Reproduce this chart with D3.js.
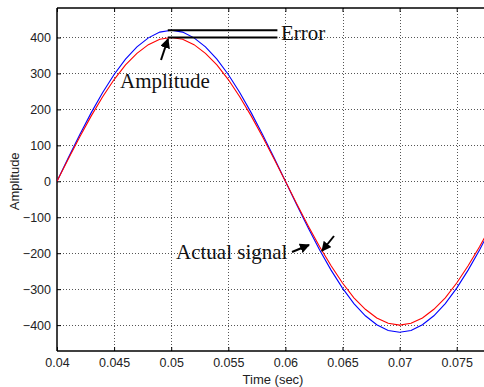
<!DOCTYPE html>
<html>
<head>
<meta charset="utf-8">
<script src="https://cdn.jsdelivr.net/npm/d3@7"></script>
<style>
  body { margin: 0; background: #fff; }
  svg { display: block; }
  .tick text { font-family: "Liberation Sans", Arial, sans-serif; font-size: 12.5px; fill: #222; }
  .note { font-family: "Liberation Serif", "Times New Roman", serif; font-size: 21px; fill: #111; }
</style>
</head>
<body>
<div id="chart"></div>
<script>
// time samples (sec)
let timeVals = [0.040, 0.041, 0.042, 0.043, 0.044, 0.045, 0.046, 0.047, 0.048, 0.049,
    0.050, 0.051, 0.052, 0.053, 0.054, 0.055, 0.056, 0.057, 0.058, 0.059,
    0.060, 0.061, 0.062, 0.063, 0.064, 0.065, 0.066, 0.067, 0.068, 0.069,
    0.070, 0.071, 0.072, 0.073, 0.074, 0.075, 0.076, 0.077, 0.078];

// blue trace (larger amplitude)
let blueVals = [0, 66, 130, 191, 247, 297, 340, 374, 399, 415,
    420, 415, 399, 374, 340, 297, 247, 191, 130, 66,
    0, -66, -130, -191, -247, -297, -340, -374, -399, -415,
    -420, -415, -399, -374, -340, -297, -247, -191, -130];

// red trace (actual signal)
let redVals = [0, 63, 124, 182, 235, 283, 324, 356, 380, 395,
    400, 395, 380, 356, 324, 283, 235, 182, 124, 63,
    0, -63, -124, -182, -235, -283, -324, -356, -380, -395,
    -400, -395, -380, -356, -324, -283, -235, -182, -124];

let xTicks = [0.04, 0.045, 0.05, 0.055, 0.06, 0.065, 0.07, 0.075];
let yTicks = [-400, -300, -200, -100, 0, 100, 200, 300, 400];

let width = 484, height = 387;
let plotLeft = 57, plotTop = 8, plotBottom = 351;

let svg = d3.select("#chart")
    .append("svg")
    .attr("width", width)
    .attr("height", height);

// x range runs past the window, the picture is cut at the right
let x = d3.scaleLinear()
    .domain([0.04, 0.08])
    .range([plotLeft, plotLeft + 8 * 57.1]);

let y = d3.scaleLinear()
    .domain([-472, 482])
    .range([plotBottom, plotTop]);

svg.append("clipPath")
    .attr("id", "plotclip")
    .append("rect")
    .attr("x", plotLeft)
    .attr("y", plotTop)
    .attr("width", width - plotLeft)
    .attr("height", plotBottom - plotTop);

// grid lines
let grid = svg.append("g");
grid.selectAll(".vg")
    .data(xTicks.slice(1))
    .enter()
    .append("line")
    .attr("x1", d => Math.round(x(d)) + 0.5)
    .attr("x2", d => Math.round(x(d)) + 0.5)
    .attr("y1", plotTop)
    .attr("y2", plotBottom)
    .attr("stroke", "#555")
    .attr("stroke-width", 1)
    .attr("stroke-dasharray", "1,2");
grid.selectAll(".hg")
    .data(yTicks)
    .enter()
    .append("line")
    .attr("x1", plotLeft)
    .attr("x2", width)
    .attr("y1", d => Math.round(y(d)) + 0.5)
    .attr("y2", d => Math.round(y(d)) + 0.5)
    .attr("stroke", "#555")
    .attr("stroke-width", 1)
    .attr("stroke-dasharray", "1,2");

// axes
let xAxis = d3.axisBottom(x)
    .tickValues(xTicks)
    .tickFormat(d => d3.format("")(+d.toFixed(3)))
    .tickSizeInner(-4)
    .tickSizeOuter(0)
    .tickPadding(7);

svg.append("g")
    .attr("transform", "translate(0," + plotBottom + ")")
    .call(xAxis)
    .call(g => g.select(".domain").remove());

// top ticks
svg.append("g")
    .attr("transform", "translate(0," + plotTop + ")")
    .call(d3.axisTop(x).tickValues(xTicks).tickSizeInner(-4).tickSizeOuter(0).tickFormat(""))
    .call(g => g.select(".domain").remove());

let yAxis = d3.axisLeft(y)
    .tickValues(yTicks)
    .tickSizeInner(-4)
    .tickSizeOuter(0)
    .tickPadding(6);

svg.append("g")
    .attr("transform", "translate(" + plotLeft + ",0)")
    .call(yAxis)
    .call(g => g.select(".domain").remove());

// frame
svg.append("line")
    .attr("x1", plotLeft).attr("x2", width)
    .attr("y1", plotTop).attr("y2", plotTop)
    .attr("stroke", "#000").attr("stroke-width", 1.5);
svg.append("line")
    .attr("x1", plotLeft).attr("x2", width)
    .attr("y1", plotBottom).attr("y2", plotBottom)
    .attr("stroke", "#000").attr("stroke-width", 1.5);
svg.append("line")
    .attr("x1", plotLeft).attr("x2", plotLeft)
    .attr("y1", plotTop).attr("y2", plotBottom)
    .attr("stroke", "#000").attr("stroke-width", 1.5);

// traces
let line = d3.line()
    .x(d => x(d[0]))
    .y(d => y(d[1]));

let plot = svg.append("g").attr("clip-path", "url(#plotclip)");

plot.append("path")
    .datum(timeVals.map((t, i) => [t, blueVals[i]]))
    .attr("d", line)
    .attr("fill", "none")
    .attr("stroke", "#0000ff")
    .attr("stroke-width", 1.1);

plot.append("path")
    .datum(timeVals.map((t, i) => [t, redVals[i]]))
    .attr("d", line)
    .attr("fill", "none")
    .attr("stroke", "#ff0000")
    .attr("stroke-width", 1.1);

// axis titles
svg.append("text")
    .attr("x", 273)
    .attr("y", 384)
    .attr("text-anchor", "middle")
    .attr("font-family", "Liberation Sans, Arial, sans-serif")
    .attr("font-size", 13)
    .attr("fill", "#222")
    .text("Time (sec)");

svg.append("text")
    .attr("transform", "translate(19," + y(0) + ") rotate(-90)")
    .attr("text-anchor", "middle")
    .attr("font-family", "Liberation Sans, Arial, sans-serif")
    .attr("font-size", 13)
    .attr("fill", "#222")
    .text("Amplitude");

// annotations
svg.append("defs").append("marker")
    .attr("id", "arrow")
    .attr("viewBox", "0 0 10 10")
    .attr("refX", 9)
    .attr("refY", 5)
    .attr("markerWidth", 5)
    .attr("markerHeight", 5)
    .attr("markerUnits", "strokeWidth")
    .attr("orient", "auto")
    .append("path")
    .attr("d", "M0,0 L10,5 L0,10 z")
    .attr("fill", "#000");

// error bars at the two peaks
[420, 400].forEach(v => {
    svg.append("line")
        .attr("x1", x(0.0497))
        .attr("x2", x(0.0593))
        .attr("y1", y(v))
        .attr("y2", y(v))
        .attr("stroke", "#000")
        .attr("stroke-width", 2);
});

svg.append("text")
    .attr("class", "note")
    .attr("x", 281)
    .attr("y", 40)
    .text("Error");

svg.append("text")
    .attr("class", "note")
    .attr("x", 120)
    .attr("y", 88)
    .text("Amplitude");

svg.append("line")
    .attr("x1", 161).attr("y1", 60)
    .attr("x2", 168).attr("y2", 39)
    .attr("stroke", "#000").attr("stroke-width", 2)
    .attr("marker-end", "url(#arrow)");

svg.append("text")
    .attr("class", "note")
    .attr("x", 176)
    .attr("y", 259)
    .text("Actual signal");

svg.append("line")
    .attr("x1", 292).attr("y1", 252)
    .attr("x2", 309).attr("y2", 245)
    .attr("stroke", "#000").attr("stroke-width", 2)
    .attr("marker-end", "url(#arrow)");

svg.append("line")
    .attr("x1", 334).attr("y1", 236)
    .attr("x2", 322).attr("y2", 251)
    .attr("stroke", "#000").attr("stroke-width", 2)
    .attr("marker-end", "url(#arrow)");
</script>
</body>
</html>
